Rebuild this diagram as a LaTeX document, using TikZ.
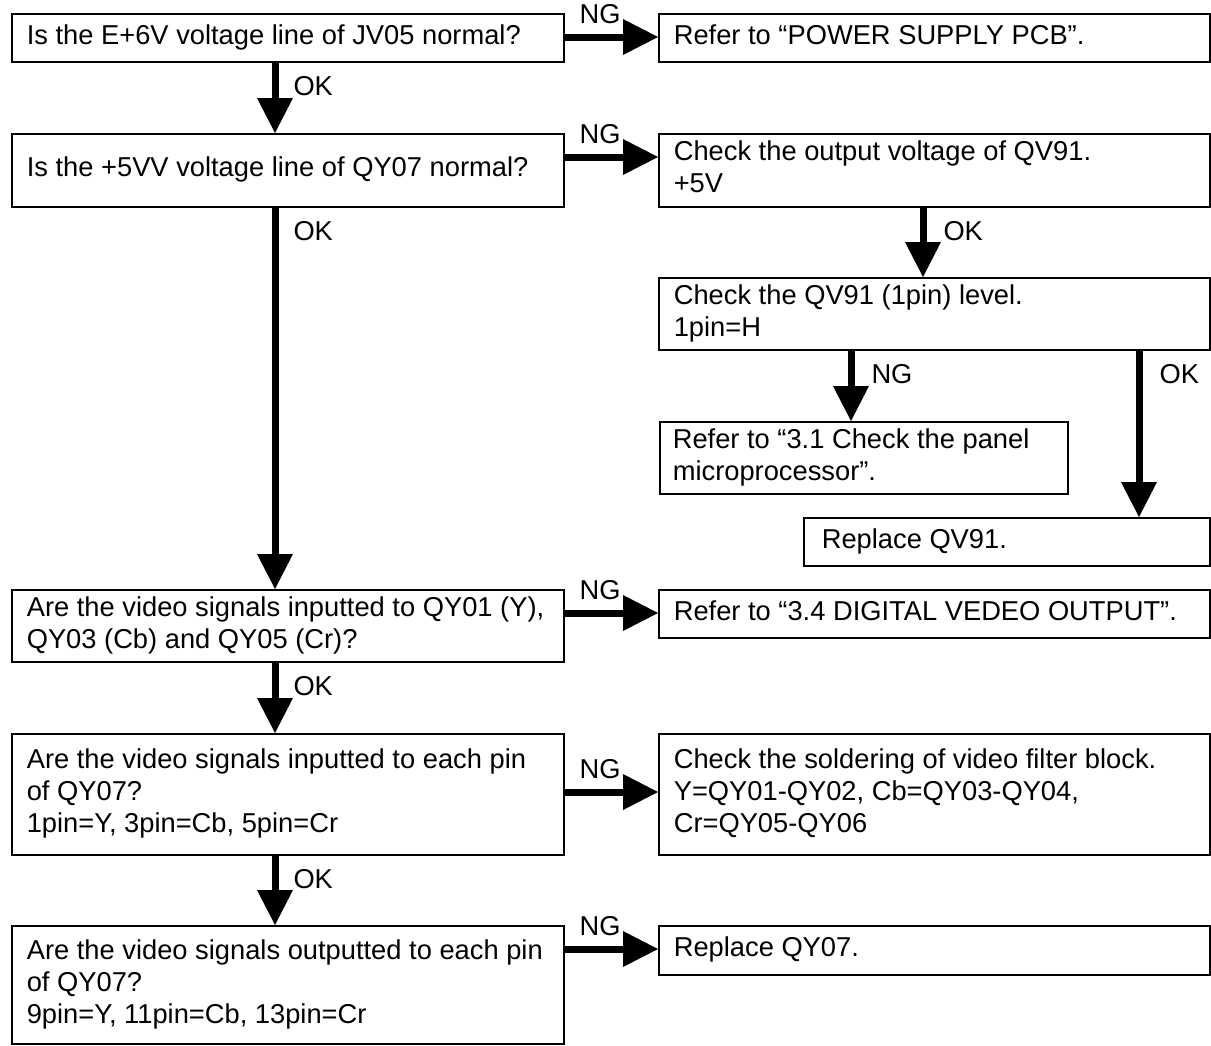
\documentclass[tikz,border=0pt]{standalone}
\usepackage{fontspec}
\setmainfont{Liberation Sans}
\usetikzlibrary{arrows.meta,calc}
\newcommand\boxtext[2]{\makebox[#1][l]{\begin{tabular}{@{}l@{}}#2\end{tabular}}}
\begin{document}
\begin{tikzpicture}[x=1pt,y=-1pt,
  box/.style={draw, line width=1.6pt, inner xsep=15pt, inner ysep=0pt,
    font=\fontsize{27.3}{32}\selectfont, anchor=north west},
  bigarrow/.style={line width=7pt, -{Triangle[length=35pt,width=36pt,line width=0pt]}},
  nglbl/.style={pos=0.38, anchor=south, yshift=10pt, inner sep=0pt, font=\fontsize{27.3}{32}\selectfont},
  oklbl/.style={pos=0, anchor=north west, xshift=15pt, yshift=-10pt, inner sep=0pt, font=\fontsize{27.3}{32}\selectfont}]
\useasboundingbox (0,0) rectangle (1211,1045);

% boxes
\node[box, minimum width=552pt, minimum height=48pt] (A) at (11,13) {\boxtext{522pt}{Is the E+6V voltage line of JV05 normal?}};
\node[box, minimum width=551pt, minimum height=48pt] (B) at (658,13) {\boxtext{521pt}{Refer to “POWER SUPPLY PCB”.}};
\node[box, minimum width=552pt, minimum height=73pt] (C) at (11,133) {\boxtext{522pt}{Is the +5VV voltage line of QY07 normal?}};
\node[box, minimum width=551pt, minimum height=73pt] (D) at (658,133) {\boxtext{521pt}{Check the output voltage of QV91.\\+5V}};
\node[box, minimum width=551pt, minimum height=72pt] (E) at (658,277) {\boxtext{521pt}{Check the QV91 (1pin) level.\\1pin=H}};
\node[box, inner xsep=13pt, minimum width=408pt, minimum height=72pt] (F) at (659,421) {\boxtext{382pt}{Refer to “3.1 Check the panel\\microprocessor”.}};
\node[box, inner xsep=18pt, minimum width=406pt, minimum height=48pt] (G) at (803,517) {\boxtext{370pt}{Replace QV91.}};
\node[box, minimum width=552pt, minimum height=72pt] (H) at (11,589) {\boxtext{522pt}{Are the video signals inputted to QY01 (Y),\\QY03 (Cb) and QY05 (Cr)?}};
\node[box, minimum width=551pt, minimum height=48pt] (I) at (658,589) {\boxtext{521pt}{Refer to “3.4 DIGITAL VEDEO OUTPUT”.}};
\node[box, minimum width=552pt, minimum height=121pt] (J) at (11,733) {\boxtext{522pt}{Are the video signals inputted to each pin\\of QY07?\\1pin=Y, 3pin=Cb, 5pin=Cr}};
\node[box, minimum width=551pt, minimum height=121pt] (K) at (658,733) {\boxtext{521pt}{Check the soldering of video filter block.\\Y=QY01-QY02, Cb=QY03-QY04,\\Cr=QY05-QY06}};
\node[box, minimum width=552pt, minimum height=118pt] (L) at (11,925) {\boxtext{522pt}{Are the video signals outputted to each pin\\of QY07?\\9pin=Y, 11pin=Cb, 13pin=Cr}};
\node[box, minimum width=551pt, minimum height=49pt] (M) at (658,925) {\boxtext{521pt}{Replace QY07.}};

% guide coordinates
\coordinate (cL) at (275,0);
\coordinate (cD) at (923,0);
\coordinate (cF) at (851,0);
\coordinate (cG) at (1139,0);
\coordinate (r1) at (0,37);
\coordinate (r2) at (0,157);
\coordinate (r3) at (0,613);
\coordinate (r4) at (0,792);
\coordinate (r5) at (0,949);

% NG arrows (horizontal)
\draw[bigarrow] (A.east |- r1) -- node[nglbl]{NG} (B.west |- r1);
\draw[bigarrow] (C.east |- r2) -- node[nglbl]{NG} (D.west |- r2);
\draw[bigarrow] (H.east |- r3) -- node[nglbl]{NG} (I.west |- r3);
\draw[bigarrow] (J.east |- r4) -- node[nglbl]{NG} (K.west |- r4);
\draw[bigarrow] (L.east |- r5) -- node[nglbl]{NG} (M.west |- r5);

% vertical arrows
\draw[bigarrow] (A.south -| cL) -- node[oklbl]{OK} (C.north -| cL);
\draw[bigarrow] (C.south -| cL) -- node[oklbl]{OK} (H.north -| cL);
\draw[bigarrow] (H.south -| cL) -- node[oklbl]{OK} (J.north -| cL);
\draw[bigarrow] (J.south -| cL) -- node[oklbl]{OK} (L.north -| cL);
\draw[bigarrow] (D.south -| cD) -- node[oklbl, xshift=2pt]{OK} (E.north -| cD);
\draw[bigarrow] (E.south -| cF) -- node[oklbl, xshift=2pt]{NG} (F.north -| cF);
\draw[bigarrow] (E.south -| cG) -- node[oklbl, xshift=2pt]{OK} (G.north -| cG);
\end{tikzpicture}
\end{document}
